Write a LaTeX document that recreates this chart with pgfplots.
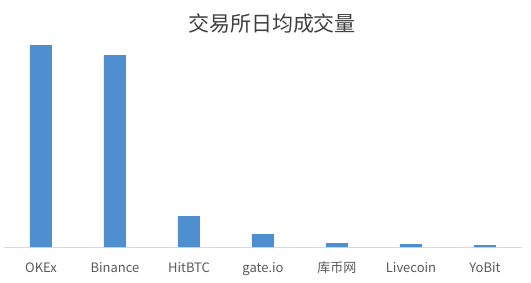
\documentclass[border=0pt]{standalone}
\usepackage{fontspec}
\setmainfont{Noto Sans CJK SC}
\usepackage{pgfplots}
\pgfplotsset{compat=1.18}
\definecolor{barblue}{RGB}{79,143,207}
\definecolor{txt}{RGB}{89,89,89}
\definecolor{ttl}{RGB}{64,64,64}
\definecolor{axgray}{RGB}{217,217,217}
\begin{document}
\begin{tikzpicture}
\path[use as bounding box] (0,0) rectangle (531pt,282pt);
\begin{axis}[
  at={(4pt,35pt)}, anchor=south west,
  scale only axis,
  width=518pt, height=207pt,
  xmin=-0.5, xmax=6.5,
  ymin=0, ymax=207,
  axis y line=none,
  axis x line*=bottom,
  x axis line style={draw=axgray, line width=0.8pt, -},
  xtick={0,1,2,3,4,5,6},
  xticklabels={OKEx,Binance,HitBTC,gate.io,库币网,Livecoin,YoBit},
  major tick length=0pt,
  x tick label style={anchor=base, yshift=-25pt, font=\fontsize{13}{15}\selectfont, text=txt},
  clip=false,
]
\addplot[ybar, bar width=22pt, fill=barblue, draw=none] coordinates {
  (0,202) (1,192) (2,31) (3,13) (4,4) (5,3) (6,2)
};
\end{axis}
\node[text=ttl, font=\fontsize{21}{24}\selectfont] at (272pt,259pt) {交易所日均成交量};
\end{tikzpicture}
\end{document}
